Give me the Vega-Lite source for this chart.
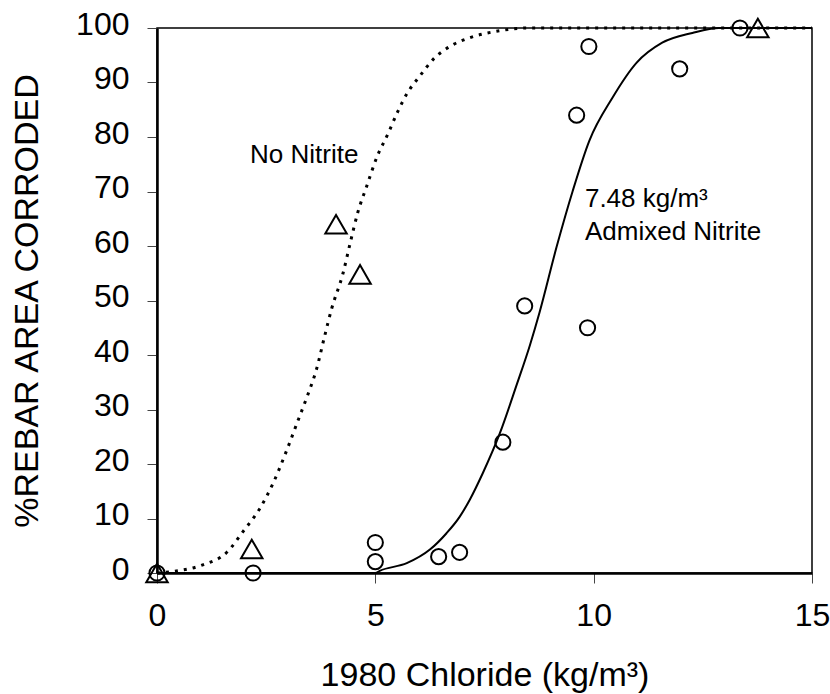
{
  "$schema": "https://vega.github.io/schema/vega-lite/v6.json",
  "width": 655,
  "height": 545,
  "autosize": {"type": "none"},
  "padding": {"left": 157, "top": 28, "right": 18, "bottom": 121},
  "background": "white",
  "config": {
    "font": "Liberation Sans",
    "view": {"stroke": "black", "strokeWidth": 1.5},
    "axis": {"grid": false, "domainColor": "black", "domainWidth": 2.5, "tickColor": "#444", "tickWidth": 1, "labelColor": "black", "titleColor": "black", "labelFont": "Liberation Sans", "titleFont": "Liberation Sans", "titleFontWeight": "normal"}
  },
  "datasets": {
    "curves": [
      {"series": "No Nitrite", "x": 0, "y": 0},
      {"series": "No Nitrite", "x": 0.37, "y": 0.3},
      {"series": "No Nitrite", "x": 1.05, "y": 1.5},
      {"series": "No Nitrite", "x": 1.6, "y": 3.8},
      {"series": "No Nitrite", "x": 1.97, "y": 7.6},
      {"series": "No Nitrite", "x": 2.36, "y": 11.9},
      {"series": "No Nitrite", "x": 2.66, "y": 16.5},
      {"series": "No Nitrite", "x": 2.97, "y": 22.5},
      {"series": "No Nitrite", "x": 3.23, "y": 28},
      {"series": "No Nitrite", "x": 3.43, "y": 32.2},
      {"series": "No Nitrite", "x": 3.66, "y": 37.6},
      {"series": "No Nitrite", "x": 3.84, "y": 43.5},
      {"series": "No Nitrite", "x": 4.0, "y": 48.5},
      {"series": "No Nitrite", "x": 4.26, "y": 55},
      {"series": "No Nitrite", "x": 4.42, "y": 60.4},
      {"series": "No Nitrite", "x": 4.6, "y": 66.2},
      {"series": "No Nitrite", "x": 4.8, "y": 70.9},
      {"series": "No Nitrite", "x": 5.03, "y": 76.2},
      {"series": "No Nitrite", "x": 5.29, "y": 80.6},
      {"series": "No Nitrite", "x": 5.51, "y": 84.6},
      {"series": "No Nitrite", "x": 5.72, "y": 87.9},
      {"series": "No Nitrite", "x": 6.02, "y": 91.2},
      {"series": "No Nitrite", "x": 6.32, "y": 94.2},
      {"series": "No Nitrite", "x": 6.77, "y": 96.9},
      {"series": "No Nitrite", "x": 7.16, "y": 98.2},
      {"series": "No Nitrite", "x": 7.85, "y": 99.5},
      {"series": "No Nitrite", "x": 8.5, "y": 100},
      {"series": "No Nitrite", "x": 15, "y": 100},
      {"series": "Admixed Nitrite", "x": 0, "y": 0},
      {"series": "Admixed Nitrite", "x": 5, "y": 0},
      {"series": "Admixed Nitrite", "x": 5.1, "y": 0.4},
      {"series": "Admixed Nitrite", "x": 5.72, "y": 1.8},
      {"series": "Admixed Nitrite", "x": 6.25, "y": 4.3},
      {"series": "Admixed Nitrite", "x": 6.63, "y": 7.3},
      {"series": "Admixed Nitrite", "x": 6.93, "y": 10.3},
      {"series": "Admixed Nitrite", "x": 7.16, "y": 13.4},
      {"series": "Admixed Nitrite", "x": 7.46, "y": 18.3},
      {"series": "Admixed Nitrite", "x": 7.85, "y": 25.6},
      {"series": "Admixed Nitrite", "x": 8.24, "y": 34.6},
      {"series": "Admixed Nitrite", "x": 8.54, "y": 41.8},
      {"series": "Admixed Nitrite", "x": 8.76, "y": 47.8},
      {"series": "Admixed Nitrite", "x": 9.15, "y": 59.8},
      {"series": "Admixed Nitrite", "x": 9.52, "y": 70.1},
      {"series": "Admixed Nitrite", "x": 9.9, "y": 79.3},
      {"series": "Admixed Nitrite", "x": 10.43, "y": 87.2},
      {"series": "Admixed Nitrite", "x": 10.98, "y": 93.6},
      {"series": "Admixed Nitrite", "x": 11.57, "y": 97.3},
      {"series": "Admixed Nitrite", "x": 12.26, "y": 99.1},
      {"series": "Admixed Nitrite", "x": 12.87, "y": 100},
      {"series": "Admixed Nitrite", "x": 15, "y": 100}
    ],
    "points": [
      {"series": "No Nitrite", "x": 0, "y": 0},
      {"series": "No Nitrite", "x": 2.17, "y": 4.4},
      {"series": "No Nitrite", "x": 4.1, "y": 64},
      {"series": "No Nitrite", "x": 4.65, "y": 54.8},
      {"series": "No Nitrite", "x": 13.76, "y": 100},
      {"series": "Admixed Nitrite", "x": 0, "y": 0},
      {"series": "Admixed Nitrite", "x": 2.2, "y": 0},
      {"series": "Admixed Nitrite", "x": 5, "y": 5.6},
      {"series": "Admixed Nitrite", "x": 5, "y": 2.1},
      {"series": "Admixed Nitrite", "x": 6.45, "y": 3},
      {"series": "Admixed Nitrite", "x": 6.93, "y": 3.8},
      {"series": "Admixed Nitrite", "x": 7.92, "y": 24},
      {"series": "Admixed Nitrite", "x": 8.42, "y": 49},
      {"series": "Admixed Nitrite", "x": 9.61, "y": 84},
      {"series": "Admixed Nitrite", "x": 9.89, "y": 96.6},
      {"series": "Admixed Nitrite", "x": 9.86, "y": 45},
      {"series": "Admixed Nitrite", "x": 11.97, "y": 92.5},
      {"series": "Admixed Nitrite", "x": 13.35, "y": 100}
    ],
    "labels": [
      {"text": "No Nitrite", "x": 2.13, "y": 75.2},
      {"text": "7.48 kg/m³", "x": 9.8, "y": 67.2},
      {"text": "Admixed Nitrite", "x": 9.8, "y": 61.1}
    ]
  },
  "encoding": {
    "x": {
      "field": "x", "type": "quantitative",
      "scale": {"domain": [0, 15], "nice": false, "zero": false},
      "axis": {"values": [0, 5, 10, 15], "title": "1980 Chloride (kg/m³)", "titleFontSize": 34, "titlePadding": 27, "labelFontSize": 32, "tickSize": 10, "labelPadding": 17, "labelFlush": false}
    },
    "y": {
      "field": "y", "type": "quantitative",
      "scale": {"domain": [0, 100], "nice": false, "zero": false},
      "axis": {"values": [0, 10, 20, 30, 40, 50, 60, 70, 80, 90, 100], "title": "%REBAR AREA CORRODED", "titleFontSize": 34, "titlePadding": 31, "labelFontSize": 32, "tickSize": 10, "labelPadding": 18, "labelOffset": -4, "labelFlush": false}
    }
  },
  "layer": [
    {
      "data": {"name": "curves"},
      "transform": [{"filter": "datum.series === 'No Nitrite'"}],
      "mark": {"type": "line", "color": "black", "strokeWidth": 3, "strokeDash": [3, 6], "interpolate": "monotone"}
    },
    {
      "data": {"name": "curves"},
      "transform": [{"filter": "datum.series === 'Admixed Nitrite'"}],
      "mark": {"type": "line", "color": "black", "strokeWidth": 2, "interpolate": "monotone"}
    },
    {
      "data": {"name": "points"},
      "transform": [{"filter": "datum.series === 'Admixed Nitrite'"}],
      "mark": {"type": "point", "shape": "circle", "filled": false, "stroke": "black", "strokeWidth": 2, "size": 230, "opacity": 1}
    },
    {
      "data": {"name": "points"},
      "transform": [{"filter": "datum.series === 'No Nitrite'"}],
      "mark": {"type": "point", "shape": "triangle-up", "filled": false, "stroke": "black", "strokeWidth": 2, "size": 460, "opacity": 1}
    },
    {
      "data": {"name": "labels"},
      "mark": {"type": "text", "align": "left", "baseline": "alphabetic", "fontSize": 26, "color": "black", "font": "Liberation Sans"},
      "encoding": {"text": {"field": "text", "type": "nominal"}}
    }
  ]
}
